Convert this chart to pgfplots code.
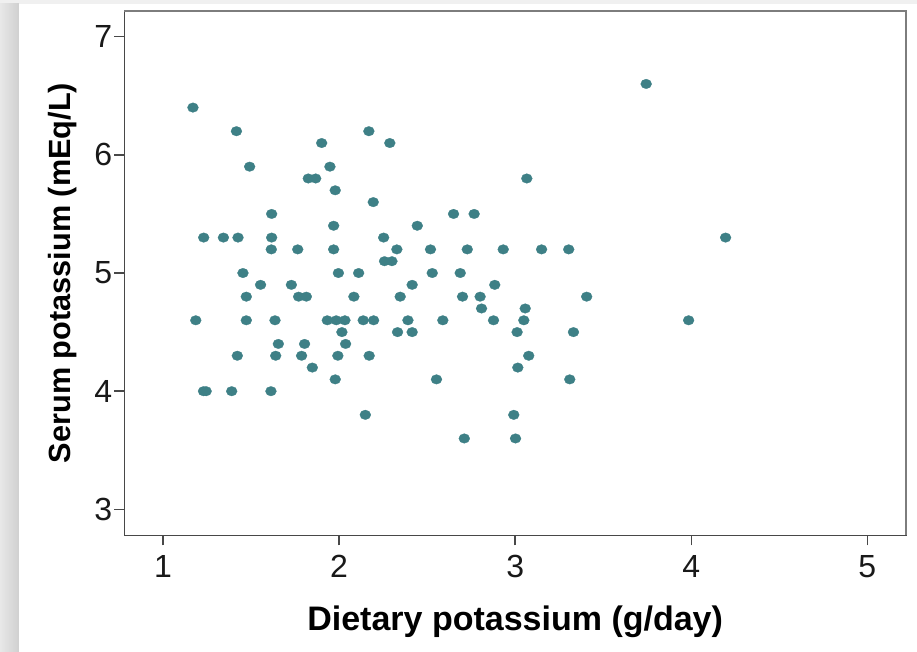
\documentclass[border=0pt]{standalone}
\usepackage{pgfplots}
\pgfplotsset{compat=1.18}
\usepackage{fontspec}
\setmainfont{Liberation Sans}

\definecolor{dotteal}{RGB}{62,128,134}
\definecolor{pagegray}{RGB}{240,240,240}
\definecolor{stripgray}{RGB}{226,226,226}
\definecolor{frameleft}{RGB}{72,72,72}
\definecolor{frametop}{RGB}{125,125,125}

\pgfplotstableread{
x      y
1.170  6.4
1.417  6.2
2.169  6.2
1.901  6.1
2.288  6.1
1.492  5.9
1.948  5.9
1.825  5.8
1.867  5.8
3.066  5.8
1.978  5.7
2.194  5.6
1.617  5.5
2.650  5.5
2.767  5.5
1.969  5.4
2.444  5.4
1.231  5.3
1.343  5.3
1.426  5.3
1.617  5.3
2.253  5.3
4.195  5.3
1.615  5.2
1.765  5.2
1.969  5.2
2.328  5.2
2.519  5.2
2.728  5.2
2.932  5.2
3.150  5.2
3.304  5.2
2.258  5.1
2.300  5.1
1.454  5.0
1.996  5.0
2.111  5.0
2.529  5.0
2.688  5.0
1.554  4.9
1.729  4.9
2.415  4.9
2.884  4.9
1.473  4.8
1.770  4.8
1.814  4.8
2.084  4.8
2.347  4.8
2.701  4.8
2.801  4.8
3.406  4.8
2.809  4.7
3.057  4.7
1.186  4.6
1.473  4.6
1.636  4.6
1.933  4.6
1.984  4.6
2.033  4.6
2.137  4.6
2.196  4.6
2.391  4.6
2.589  4.6
2.877  4.6
3.049  4.6
3.985  4.6
2.016  4.5
2.332  4.5
2.415  4.5
3.011  4.5
3.331  4.5
1.655  4.4
1.804  4.4
2.037  4.4
1.422  4.3
1.640  4.3
1.787  4.3
1.993  4.3
2.171  4.3
3.077  4.3
1.848  4.2
3.015  4.2
1.978  4.1
2.553  4.1
3.310  4.1
1.230  4.0
1.245  4.0
1.390  4.0
1.613  4.0
2.149  3.8
2.992  3.8
2.711  3.6
3.002  3.6
3.744  6.6
}\potassium

\begin{document}
\begin{tikzpicture}
% page background, left shadow strip and white panel
\fill[pagegray] (-93.2pt,-86.8pt) rectangle (594.5pt,401.5pt);
\shade[left color=stripgray!80!white, right color=stripgray!92!black]
  (-93.2pt,-86.8pt) rectangle (-79pt,398.5pt);
\fill[white] (-79pt,-86.8pt) rectangle (594.5pt,398.5pt);
\path[use as bounding box] (-93.2pt,-86.8pt) rectangle (594.5pt,401.5pt);

\begin{axis}[
  at={(0pt,0pt)}, anchor=south west,
  scale only axis,
  width=586.3pt, height=393.5pt,
  xmin=0.78, xmax=5.22,
  ymin=2.78, ymax=7.22,
  xtick={1,2,3,4,5},
  ytick={3,4,5,6,7},
  xtick pos=bottom, ytick pos=left,
  tick align=outside,
  major tick length=7.5pt,
  tick style={line width=1.1pt, color=frameleft},
  axis line style={frameleft, line width=1.1pt},
  /pgf/number format/assume math mode=true,
  ticklabel style={font=\fontsize{24}{28}\selectfont, text=black!90},
  yticklabel style={xshift=2pt},
  xticklabel style={yshift=-4pt},
  xlabel={Dietary potassium (g/day)},
  ylabel={Serum potassium (mEq/L)},
  xlabel style={at={(axis description cs:0.5,0)}, anchor=center, yshift=-65pt,
    font=\fontsize{25.5}{30}\selectfont\bfseries},
  ylabel style={at={(axis description cs:0,0.5)}, anchor=center, yshift=46pt,
    font=\fontsize{23}{28}\selectfont\bfseries},
  clip=false,
]
\addplot[only marks, mark=*, mark size=3.6pt,
  mark options={fill=dotteal, draw=dotteal, line width=0.2pt, xscale=1.14}]
  table[x=x, y=y] {\potassium};
% lighter, heavier top and right sides of the frame
\draw[frametop, line width=1.5pt] (rel axis cs:0,1) -- (rel axis cs:1,1) -- (rel axis cs:1,0);
\end{axis}
\end{tikzpicture}
\end{document}
